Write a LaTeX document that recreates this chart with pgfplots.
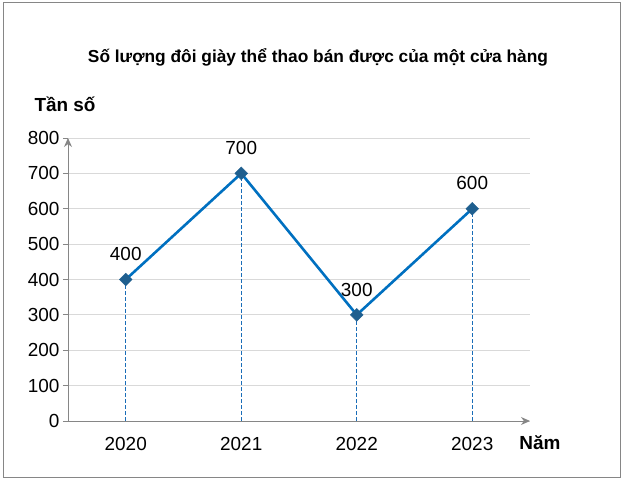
\documentclass[border=0pt]{standalone}
\usepackage{fontspec}
\setmainfont{Liberation Sans}
\usepackage{pgfplots}
\pgfplotsset{compat=1.18}
\usetikzlibrary{arrows.meta}
\definecolor{lineblue}{HTML}{0070C0}
\definecolor{mkblue}{HTML}{1F5F8F}
\definecolor{dashblue}{HTML}{1A6DB8}
\definecolor{gridgray}{HTML}{D9D9D9}
\definecolor{axgray}{HTML}{868686}
\begin{document}
\begin{tikzpicture}
\path[use as bounding box] (0,0) rectangle (626bp,485bp);
\draw[color=axgray, line width=1bp] (3bp,7bp) rectangle (620bp,482bp);
\begin{axis}[
  at={(68bp,64bp)}, anchor=south west,
  scale only axis, width=462bp, height=283bp,
  xmin=-0.5, xmax=3.5, ymin=0, ymax=800,
  xtick={0,1,2,3}, xticklabels={2020,2021,2022,2023},
  ytick={0,100,...,800},
  axis x line=bottom, axis y line=left,
  axis line style={color=axgray, line width=1bp, -{Stealth[length=9bp,width=8bp]}},
  xtick style={draw=none},
  ytick style={color=axgray, line width=0.8bp},
  tick align=outside, major tick length=5bp,
  ymajorgrids, grid style={color=gridgray, line width=0.8bp},
  tick label style={font=\fontsize{19}{21}\selectfont},
  xticklabel style={yshift=-8bp},
  /pgf/number format/assume math mode=true,
  clip=false,
]
\addplot[ycomb, mark=none, color=dashblue, line width=1bp, dash pattern=on 4bp off 2bp]
  coordinates {(0,400) (1,700) (2,300) (3,600)};
\addplot[color=lineblue, line width=2.6bp, mark=square*,
  mark size=4.5bp, mark options={rotate=45, fill=mkblue, draw=mkblue, line width=0.5bp},
  nodes near coords,
  every node near coord/.append style={font=\fontsize{19}{21}\selectfont, color=black, anchor=south, yshift=15bp},
  ]
  coordinates {(0,400) (1,700) (2,300) (3,600)};
\end{axis}
\node[font=\bfseries\fontsize{17.4}{20}\selectfont] at (318bp,428bp) {Số lượng đôi giày thể thao bán được của một cửa hàng};
\node[font=\bfseries\fontsize{19}{21}\selectfont] at (65bp,381bp) {Tần số};
\node[font=\bfseries\fontsize{19}{21}\selectfont] at (540bp,42bp) {Năm};
\end{tikzpicture}
\end{document}
